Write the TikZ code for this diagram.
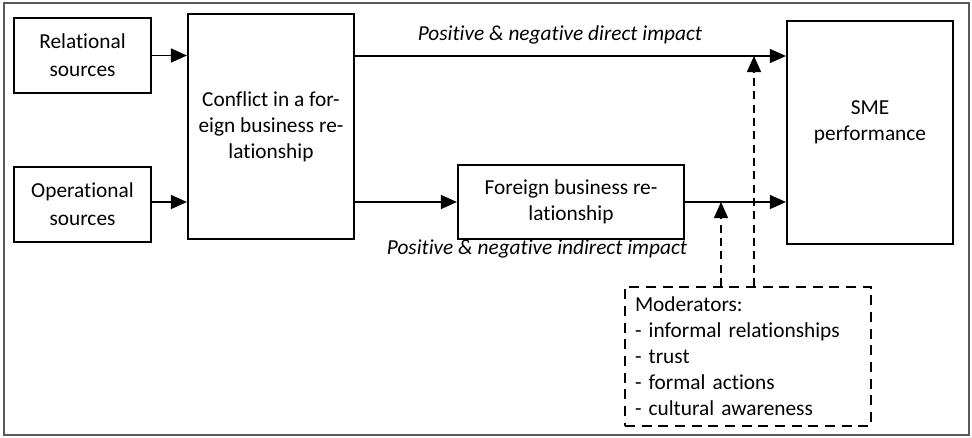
\documentclass[tikz,border=0pt]{standalone}
\usepackage{fontspec}
\setmainfont[Ligatures=NoCommon]{Carlito}
\usetikzlibrary{arrows.meta,calc}
\begin{document}
\begin{tikzpicture}[x=0.75pt,y=-0.75pt,
  box/.style={draw=black,line width=1.6pt,align=center,inner sep=2pt,
    font=\fontsize{16}{19.5}\selectfont},
  arr/.style={line width=1.1pt,-{Triangle[length=12pt,width=10.5pt]}},
  darr/.style={line width=1.1pt,dash pattern=on 6pt off 4pt,-{Triangle[length=12pt,width=10.5pt]}},
  lbl/.style={font=\fontsize{16}{19.5}\selectfont\itshape,inner sep=0pt}]
\useasboundingbox (0,0) rectangle (972,437);
\draw[gray!70!black,line width=0.8pt] (4,3) rectangle (969,435);
\node[box,minimum width=102.75pt,minimum height=56.25pt,font=\fontsize{16}{21}\selectfont] (rel) at (82.5,55.5) {Relational\\sources};
\node[box,minimum width=102.75pt,minimum height=56.25pt,font=\fontsize{16}{21}\selectfont] (op) at (82.5,204.5) {Operational\\sources};
\node[box,minimum width=124.5pt,minimum height=168.75pt] (con) at (271,126.5) {Conflict in a for-\\eign business re-\\lationship};
\node[box,minimum width=169.5pt,minimum height=55.5pt] (for) at (571,202) {Foreign business re-\\lationship};
\node[box,minimum width=124.5pt,minimum height=167.25pt] (sme) at (870,132.5) {SME\\performance\\[-1pt]};
\node[box,dash pattern=on 7.5pt off 5pt,line width=1.5pt,minimum width=184.5pt,minimum height=104.25pt,
  text width=169.5pt,align=left,inner xsep=7.5pt] (mod) at (748,356.5)
  {Moderators:\\- informal relationships\\- trust\\- formal actions\\- cultural awareness};
\node[lbl] (dlab) at (560,35) {Positive \& negative direct impact};
\node[lbl] (ilab) at (537,249) {Positive \& negative indirect impact};
\coordinate (m1) at (721,202);
\coordinate (m2) at (754,56);
\draw[arr] (rel.east) -- (con.west |- rel.east);
\draw[arr] (op.east |- for.west) -- (con.west |- for.west);
\draw[arr] (con.east |- m2) -- (sme.west |- m2);
\draw[arr] (con.east |- for.west) -- (for.west);
\draw[arr] (for.east) -- (sme.west |- for.east);
\draw[darr] (mod.north -| m1) -- (m1);
\draw[darr] (mod.north -| m2) -- (m2);
\end{tikzpicture}
\end{document}
